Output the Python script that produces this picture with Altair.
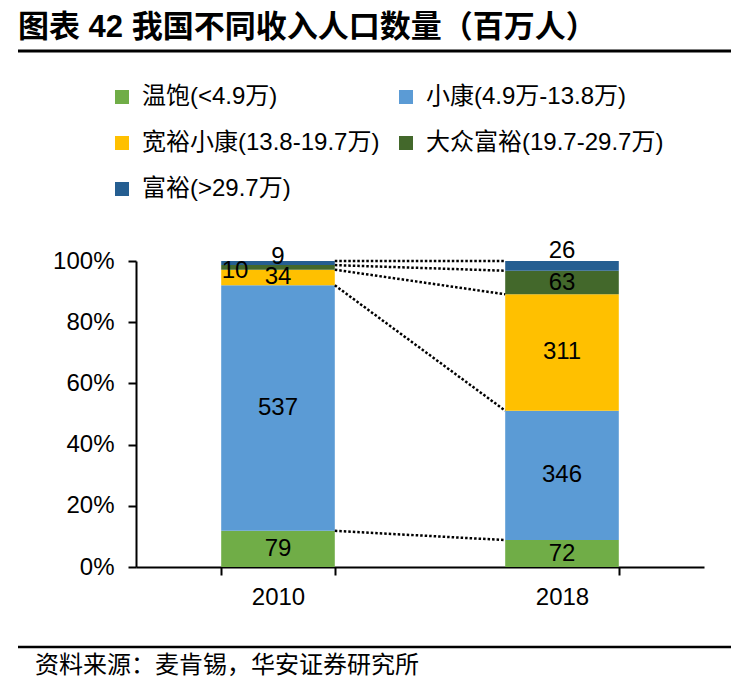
import pandas as pd
import altair as alt

years = ["2010", "2018"]
groups = ["温饱(<4.9万)", "小康(4.9万-13.8万)", "宽裕小康(13.8-19.7万)",
          "大众富裕(19.7-29.7万)", "富裕(>29.7万)"]
pop_2010 = [79, 537, 34, 10, 9]
pop_2018 = [72, 346, 311, 63, 26]
colors = ["#70AD47", "#5B9BD5", "#FFC000", "#43682B", "#255E91"]

_FONT = "Liberation Sans, Arial, Noto Sans CJK SC"
_CJK = "Noto Sans CJK SC, Liberation Sans"

# thin top slices get their labels nudged off the bar (dx, dy in px)
nudge = {("2010", 3): (-43, 4), ("2010", 4): (0, -6), ("2018", 4): (0, -15)}

rows, cums = [], {}
for yr, vals in zip(years, [pop_2010, pop_2018]):
    tot, run = sum(vals), 0
    cums[yr] = []
    for i, (g, v) in enumerate(zip(groups, vals)):
        rows.append({"year": yr, "group": g, "idx": i, "v": v,
                     "mid": (run + v / 2) / tot, "key": f"{yr}-{i}"})
        run += v
        cums[yr].append(run / tot)
df = pd.DataFrame(rows)

# dotted connectors between matching segment boundaries
links = pd.DataFrame({"a": years[0], "b": years[1],
                      "y0": cums[years[0]], "y1": cums[years[1]]})

x_enc = alt.X("year:N", sort=years, title=None,
              scale=alt.Scale(paddingInner=0.6, paddingOuter=0.3),
              axis=alt.Axis(labelAngle=0, labelFontSize=24, labelFont=_FONT,
                            labelColor="black", tickBand="extent", tickSize=8,
                            tickWidth=2, tickColor="black", domainColor="black",
                            domainWidth=2, labelPadding=10))
y_enc = alt.Y("v:Q", stack="normalize", title=None,
              scale=alt.Scale(domain=[0, 1]),
              axis=alt.Axis(values=[0, 0.2, 0.4, 0.6, 0.8, 1], format=".0%",
                            grid=False, labelFontSize=24, labelFont=_FONT,
                            labelColor="black", tickSize=8, tickWidth=2,
                            tickColor="black", domainColor="black",
                            domainWidth=2, labelPadding=14))

bars = alt.Chart(df).mark_bar().encode(
    x=x_enc, y=y_enc,
    color=alt.Color("group:N", scale=alt.Scale(domain=groups, range=colors),
                    legend=alt.Legend(orient="none", legendX=-26, legendY=-176,
                                      columns=2, direction="horizontal",
                                      title=None, symbolType="square",
                                      symbolSize=196, symbolStrokeWidth=0,
                                      labelFontSize=24, labelFont=_FONT,
                                      labelColor="black", labelLimit=400,
                                      labelOffset=8, rowPadding=22,
                                      columnPadding=14)),
    order=alt.Order("idx:Q", sort="ascending"),
)

links_layer = alt.Chart(links).mark_rule(
    color="black", strokeWidth=2.5, strokeDash=[2.5, 2]).encode(
    x=alt.X("a:N", bandPosition=1), x2=alt.X2("b:N", bandPosition=0),
    y="y0:Q", y2="y1:Q")

special = [f"{yr}-{i}" for yr, i in nudge]
lbl_kw = dict(fontSize=24, font=_FONT, color="black", baseline="middle")
labels = [alt.Chart(df).transform_filter(
    "indexof(" + str(special) + ", datum.key) < 0").mark_text(**lbl_kw).encode(
    x=alt.X("year:N", sort=years), y="mid:Q", text="v:Q")]
for (yr, i), (dx, dy) in nudge.items():
    labels.append(alt.Chart(df).transform_filter(
        f"datum.key == '{yr}-{i}'").mark_text(dx=dx, dy=dy, **lbl_kw).encode(
        x=alt.X("year:N", sort=years), y="mid:Q", text="v:Q"))

one = alt.Data(values=[{}])
title = alt.Chart(one).mark_text(
    text="图表 42 我国不同收入人口数量（百万人）", align="left", baseline="middle",
    fontSize=31, fontWeight="bold", font=_FONT, color="black").encode(
    x=alt.value(-118), y=alt.value(-233))
source = alt.Chart(one).mark_text(
    text="资料来源：麦肯锡，华安证券研究所", align="left", baseline="middle",
    fontSize=24, font=_CJK, color="black").encode(
    x=alt.value(-101), y=alt.value(405))
top_line = alt.Chart(one).mark_rule(color="black", strokeWidth=3).encode(
    x=alt.value(-118), x2=alt.value(610), y=alt.value(-210))
foot_line = alt.Chart(one).mark_rule(color="black", strokeWidth=2.5).encode(
    x=alt.value(-118), x2=alt.value(610), y=alt.value(386))

chart = alt.layer(bars, links_layer, *labels, title, source, top_line, foot_line).properties(
    width=568, height=306,
    padding={"left": 128, "top": 253, "right": 27, "bottom": 118},
    autosize=alt.AutoSizeParams(type="none"),
).configure_view(stroke=None)

chart.save("out.html", embed_options={"renderer": "svg", "actions": False})
